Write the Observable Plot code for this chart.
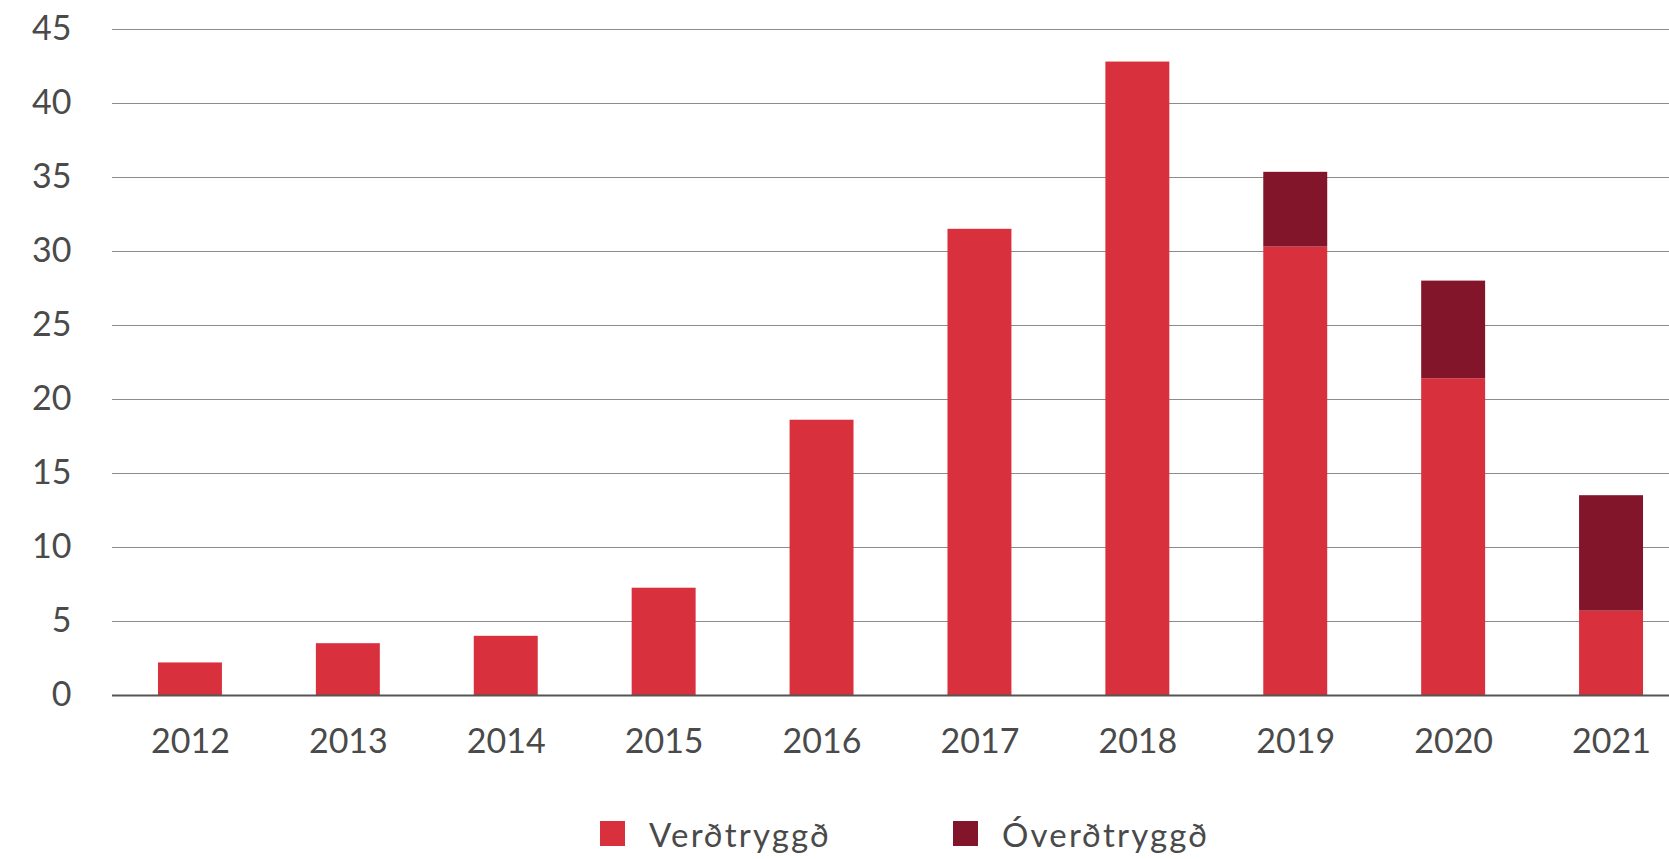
<!DOCTYPE html>
<html>
<head>
<meta charset="utf-8">
<script src="https://cdn.jsdelivr.net/npm/d3@7"></script>
<script src="https://cdn.jsdelivr.net/npm/@observablehq/plot@0.6"></script>
<style>
  html, body { margin: 0; padding: 0; background: #fff; }
  body { width: 1669px; height: 859px; position: relative; overflow: hidden; font-family: Lato, "Open Sans", sans-serif; }
  #chart { position: absolute; left: 0; top: 0; }
  .legend-item { position: absolute; top: 821px; display: flex; align-items: center; height: 25px; color: #4a4a4a; font-size: 33px; letter-spacing: 2.2px; white-space: nowrap; }
  .legend-item .sw { width: 25px; height: 25px; margin-right: 24px; flex: none; }
</style>
</head>
<body>
<div id="chart"></div>
<div id="legend"></div>
<script>
const years = ["2012","2013","2014","2015","2016","2017","2018","2019","2020","2021"];
const indexed = [2.2, 3.5, 4.0, 7.25, 18.6, 31.5, 42.8, 30.3, 21.4, 5.7];
const nonIndexed = [0, 0, 0, 0, 0, 0, 0, 5.05, 6.6, 7.8];
const seriesNames = ["Verðtryggð", "Óverðtryggð"];
const seriesColors = ["#d9303e", "#82152a"];
const yTicks = [0, 5, 10, 15, 20, 25, 30, 35, 40, 45];

const data = [];
years.forEach((y, i) => {
  data.push({year: y, type: seriesNames[0], value: indexed[i]});
  data.push({year: y, type: seriesNames[1], value: nonIndexed[i]});
});

const width = 1669, height = 790;
const chart = Plot.plot({
  width, height,
  marginLeft: 112, marginRight: 0, marginTop: 29, marginBottom: height - 695,
  style: {fontFamily: "Lato, 'Open Sans', sans-serif", fontSize: "34px", color: "#4a4a4a", background: "#fff"},
  x: {type: "band", domain: years, range: [111, 1690], paddingInner: 0.595, paddingOuter: 0.2975, round: false, label: null},
  y: {domain: [0, 45], label: null},
  color: {domain: seriesNames, range: seriesColors},
  marks: [
    Plot.ruleY(yTicks.filter(d => d > 0), {stroke: "#8c8c8c", strokeWidth: 1.2}),
    Plot.barY(data, {x: "year", y: "value", fill: "type"}),
    Plot.ruleY([0], {stroke: "#555", strokeWidth: 2.2}),
    Plot.axisY({ticks: yTicks, tickSize: 0, tickPadding: 41, fontSize: 34, fill: "#4a4a4a", label: null}),
    Plot.axisX({tickSize: 0, tickPadding: 33, fontSize: 34, fill: "#4a4a4a", label: null})
  ]
});
document.getElementById("chart").appendChild(chart);

const legend = document.getElementById("legend");
const legendLeft = [600, 953];
seriesNames.forEach((name, i) => {
  const item = document.createElement("div");
  item.className = "legend-item";
  item.style.left = legendLeft[i] + "px";
  const sw = document.createElement("span");
  sw.className = "sw";
  sw.style.background = seriesColors[i];
  const t = document.createElement("span");
  t.textContent = name;
  item.appendChild(sw);
  item.appendChild(t);
  legend.appendChild(item);
});
</script>
</body>
</html>
